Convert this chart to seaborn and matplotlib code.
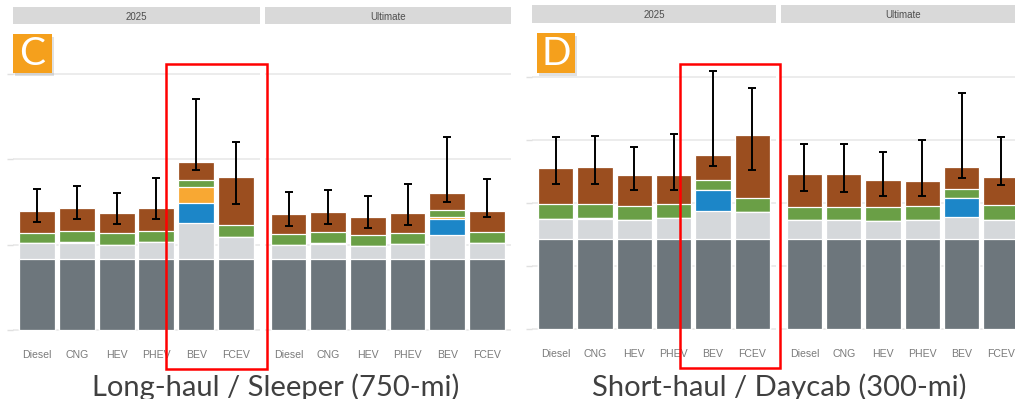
import numpy as np
import pandas as pd
import seaborn as sns
import matplotlib
matplotlib.use("Agg")
import matplotlib.pyplot as plt
from matplotlib.patches import Rectangle

# ---- data (cost per mile, stacked components) ----
powertrains = ["Diesel", "CNG", "HEV", "PHEV", "BEV", "FCEV"]
scenarios = ["2025", "Ultimate"]
components = ["Vehicle", "Maintenance", "Battery", "Charger", "Insurance", "Fuel"]
comp_colors = ["#6D767C", "#D5D8DB", "#1C86C8", "#F8A833", "#6A9F46", "#9B4E1F"]

# Long-haul / Sleeper (750-mi)
lh_2025_vehicle = [0.413, 0.413, 0.413, 0.413, 0.413, 0.413]
lh_2025_maint = [0.094, 0.096, 0.084, 0.103, 0.215, 0.133]
lh_2025_battery = [0.000, 0.007, 0.000, 0.000, 0.116, 0.000]
lh_2025_charger = [0.000, 0.000, 0.000, 0.000, 0.090, 0.000]
lh_2025_insur = [0.062, 0.065, 0.068, 0.065, 0.043, 0.068]
lh_2025_fuel = [0.129, 0.134, 0.117, 0.131, 0.104, 0.279]
lh_2025_lo = [0.633, 0.647, 0.620, 0.647, 0.936, 0.737]
lh_2025_hi = [0.823, 0.842, 0.800, 0.891, 1.349, 1.101]

lh_ult_vehicle = [0.413, 0.413, 0.413, 0.413, 0.413, 0.413]
lh_ult_maint = [0.084, 0.088, 0.078, 0.090, 0.141, 0.094]
lh_ult_battery = [0.000, 0.006, 0.000, 0.000, 0.093, 0.000]
lh_ult_charger = [0.000, 0.000, 0.000, 0.000, 0.016, 0.000]
lh_ult_insur = [0.063, 0.066, 0.065, 0.062, 0.039, 0.064]
lh_ult_fuel = [0.120, 0.119, 0.107, 0.121, 0.098, 0.125]
lh_ult_lo = [0.610, 0.620, 0.598, 0.614, 0.749, 0.661]
lh_ult_hi = [0.805, 0.817, 0.784, 0.856, 1.130, 0.883]

# Short-haul / Daycab (300-mi)
sh_2025_vehicle = [0.711, 0.711, 0.711, 0.711, 0.711, 0.711]
sh_2025_maint = [0.162, 0.160, 0.156, 0.167, 0.228, 0.217]
sh_2025_battery = [0.000, 0.007, 0.000, 0.000, 0.164, 0.000]
sh_2025_charger = [0.000, 0.000, 0.000, 0.000, 0.000, 0.000]
sh_2025_insur = [0.117, 0.112, 0.112, 0.112, 0.080, 0.109]
sh_2025_fuel = [0.288, 0.299, 0.241, 0.233, 0.199, 0.504]
sh_2025_lo = [1.149, 1.149, 1.101, 1.101, 1.297, 1.260]
sh_2025_hi = [1.527, 1.535, 1.443, 1.549, 2.053, 1.912]

sh_ult_vehicle = [0.711, 0.711, 0.711, 0.711, 0.711, 0.711]
sh_ult_maint = [0.154, 0.151, 0.148, 0.154, 0.175, 0.154]
sh_ult_battery = [0.000, 0.003, 0.000, 0.000, 0.151, 0.000]
sh_ult_charger = [0.000, 0.000, 0.000, 0.000, 0.000, 0.000]
sh_ult_insur = [0.106, 0.106, 0.107, 0.111, 0.074, 0.116]
sh_ult_fuel = [0.260, 0.260, 0.217, 0.199, 0.173, 0.223]
sh_ult_lo = [1.093, 1.088, 1.058, 1.058, 1.196, 1.141]
sh_ult_hi = [1.469, 1.469, 1.403, 1.501, 1.873, 1.527]

W, H = 1015, 399
fig = plt.figure(figsize=(W / 100, H / 100), dpi=100)
sns.set_style("white")
plt.rcParams["font.family"] = ["Liberation Sans", "DejaVu Sans"]


def fbox(x0, y0, x1, y1):
    return [x0 / W, 1 - y1 / H, (x1 - x0) / W, (y1 - y0) / H]


def draw_panel(ax, parts, lo, hi, ticks, first):
    df = pd.DataFrame({"Powertrain": powertrains})
    cum = np.zeros(len(powertrains))
    for name, vals in zip(components, parts):
        cum = cum + np.array(vals)
        df[name] = cum
    # tallest cumulative first so lower components overlay it
    for name, col in reversed(list(zip(components, comp_colors))):
        sns.barplot(data=df, x="Powertrain", y=name, color=col, saturation=1,
                    width=0.9, edgecolor="white", linewidth=0.9, ax=ax)
    x = np.arange(len(powertrains))
    ax.errorbar(x, lo, yerr=[np.zeros(len(lo)), np.array(hi) - np.array(lo)],
                fmt="none", ecolor="black", elinewidth=1.4, capsize=3.2,
                capthick=1.4, zorder=5)
    ax.set_xlim(-0.6, len(powertrains) - 0.4)
    ax.set_yticks(ticks)
    ax.set_yticklabels([])
    ax.yaxis.grid(True, color="#EBEBEB", lw=1.3)
    ax.set_axisbelow(True)
    ax.set(xlabel="", ylabel="")
    for s in ax.spines.values():
        s.set_visible(False)
    ax.tick_params(axis="x", length=2.5, width=1, color="#9A9A9A", pad=3,
                   labelsize=7.6, labelcolor="#7A7A7A")
    if first:
        ax.tick_params(axis="y", left=True, length=4.5, width=1, color="#E0E0E0")
    else:
        ax.tick_params(axis="y", left=False)


def strip(x0, y0, x1, y1, label):
    sax = fig.add_axes(fbox(x0, y0, x1, y1))
    sax.set_facecolor("#D9D9D9")
    sax.set_xticks([])
    sax.set_yticks([])
    for s in sax.spines.values():
        s.set_visible(False)
    sax.text(0.5, 0.45, label, ha="center", va="center", fontsize=7,
             color="#4D4D4D", transform=sax.transAxes)


def letter(x0, y0, x1, y1, ch):
    fig.add_artist(Rectangle((x0 / W + 0.002, 1 - (y1 + 3) / H), (x1 - x0) / W,
                             (y1 - y0) / H, transform=fig.transFigure,
                             facecolor="#888888", alpha=0.25, lw=0))
    fig.add_artist(Rectangle((x0 / W, 1 - y1 / H), (x1 - x0) / W, (y1 - y0) / H,
                             transform=fig.transFigure, facecolor="#F5A01C", lw=0))
    fig.text((x0 + x1) / 2 / W, 1 - (y0 + y1) / 2 / H - 0.002, ch, ha="center",
             va="center", fontsize=28, color="white", family=["Lato", "DejaVu Sans"])


def red_box(x0, y0, x1, y1):
    fig.add_artist(Rectangle((x0 / W, 1 - y1 / H), (x1 - x0) / W, (y1 - y0) / H,
                             transform=fig.transFigure, fill=False,
                             edgecolor="#FF0000", lw=1.8, zorder=20))


panels = [
    # (x0, x1, top, bottom, baseline, px_per_unit, parts, lo, hi, ticks, first)
    (13, 260, 24.3, 342, 330, 171,
     [lh_2025_vehicle, lh_2025_maint, lh_2025_battery, lh_2025_charger, lh_2025_insur, lh_2025_fuel],
     lh_2025_lo, lh_2025_hi, [0, 0.5, 1.0, 1.5], True),
    (264.7, 510.7, 24.3, 342, 330, 171,
     [lh_ult_vehicle, lh_ult_maint, lh_ult_battery, lh_ult_charger, lh_ult_insur, lh_ult_fuel],
     lh_ult_lo, lh_ult_hi, [0, 0.5, 1.0, 1.5], False),
    (532, 776, 22.7, 341, 328.7, 125.7,
     [sh_2025_vehicle, sh_2025_maint, sh_2025_battery, sh_2025_charger, sh_2025_insur, sh_2025_fuel],
     sh_2025_lo, sh_2025_hi, [0, 0.5, 1.0, 1.5, 2.0], True),
    (780.7, 1024.7, 22.7, 341, 328.7, 125.7,
     [sh_ult_vehicle, sh_ult_maint, sh_ult_battery, sh_ult_charger, sh_ult_insur, sh_ult_fuel],
     sh_ult_lo, sh_ult_hi, [0, 0.5, 1.0, 1.5, 2.0], False),
]
strip_y = [(7.3, 24.3), (7.3, 24.3), (5.3, 22.7), (5.3, 22.7)]

for i, (x0, x1, top, bot, base, ppu, parts, lo, hi, ticks, first) in enumerate(panels):
    ax = fig.add_axes(fbox(x0, top, x1, bot))
    draw_panel(ax, parts, lo, hi, ticks, first)
    ax.set_ylim(-(bot - base) / ppu, (base - top) / ppu)
    strip(x0, strip_y[i][0], x1, strip_y[i][1], scenarios[i % 2])

letter(12.7, 34, 51.7, 73.3, "C")
letter(536.7, 33.3, 575, 73.3, "D")
red_box(165.7, 64, 266.7, 369)
red_box(680, 64.3, 780, 368.3)

cap_kw = dict(ha="center", va="baseline", fontsize=21, color="#404040",
              family=["Lato", "DejaVu Sans"])
fig.text(276 / W, 1 - 396 / H, "Long-haul / Sleeper (750-mi)", **cap_kw)
fig.text(779 / W, 1 - 396 / H, "Short-haul / Daycab (300-mi)", **cap_kw)

fig.savefig("out.png", dpi=100)
